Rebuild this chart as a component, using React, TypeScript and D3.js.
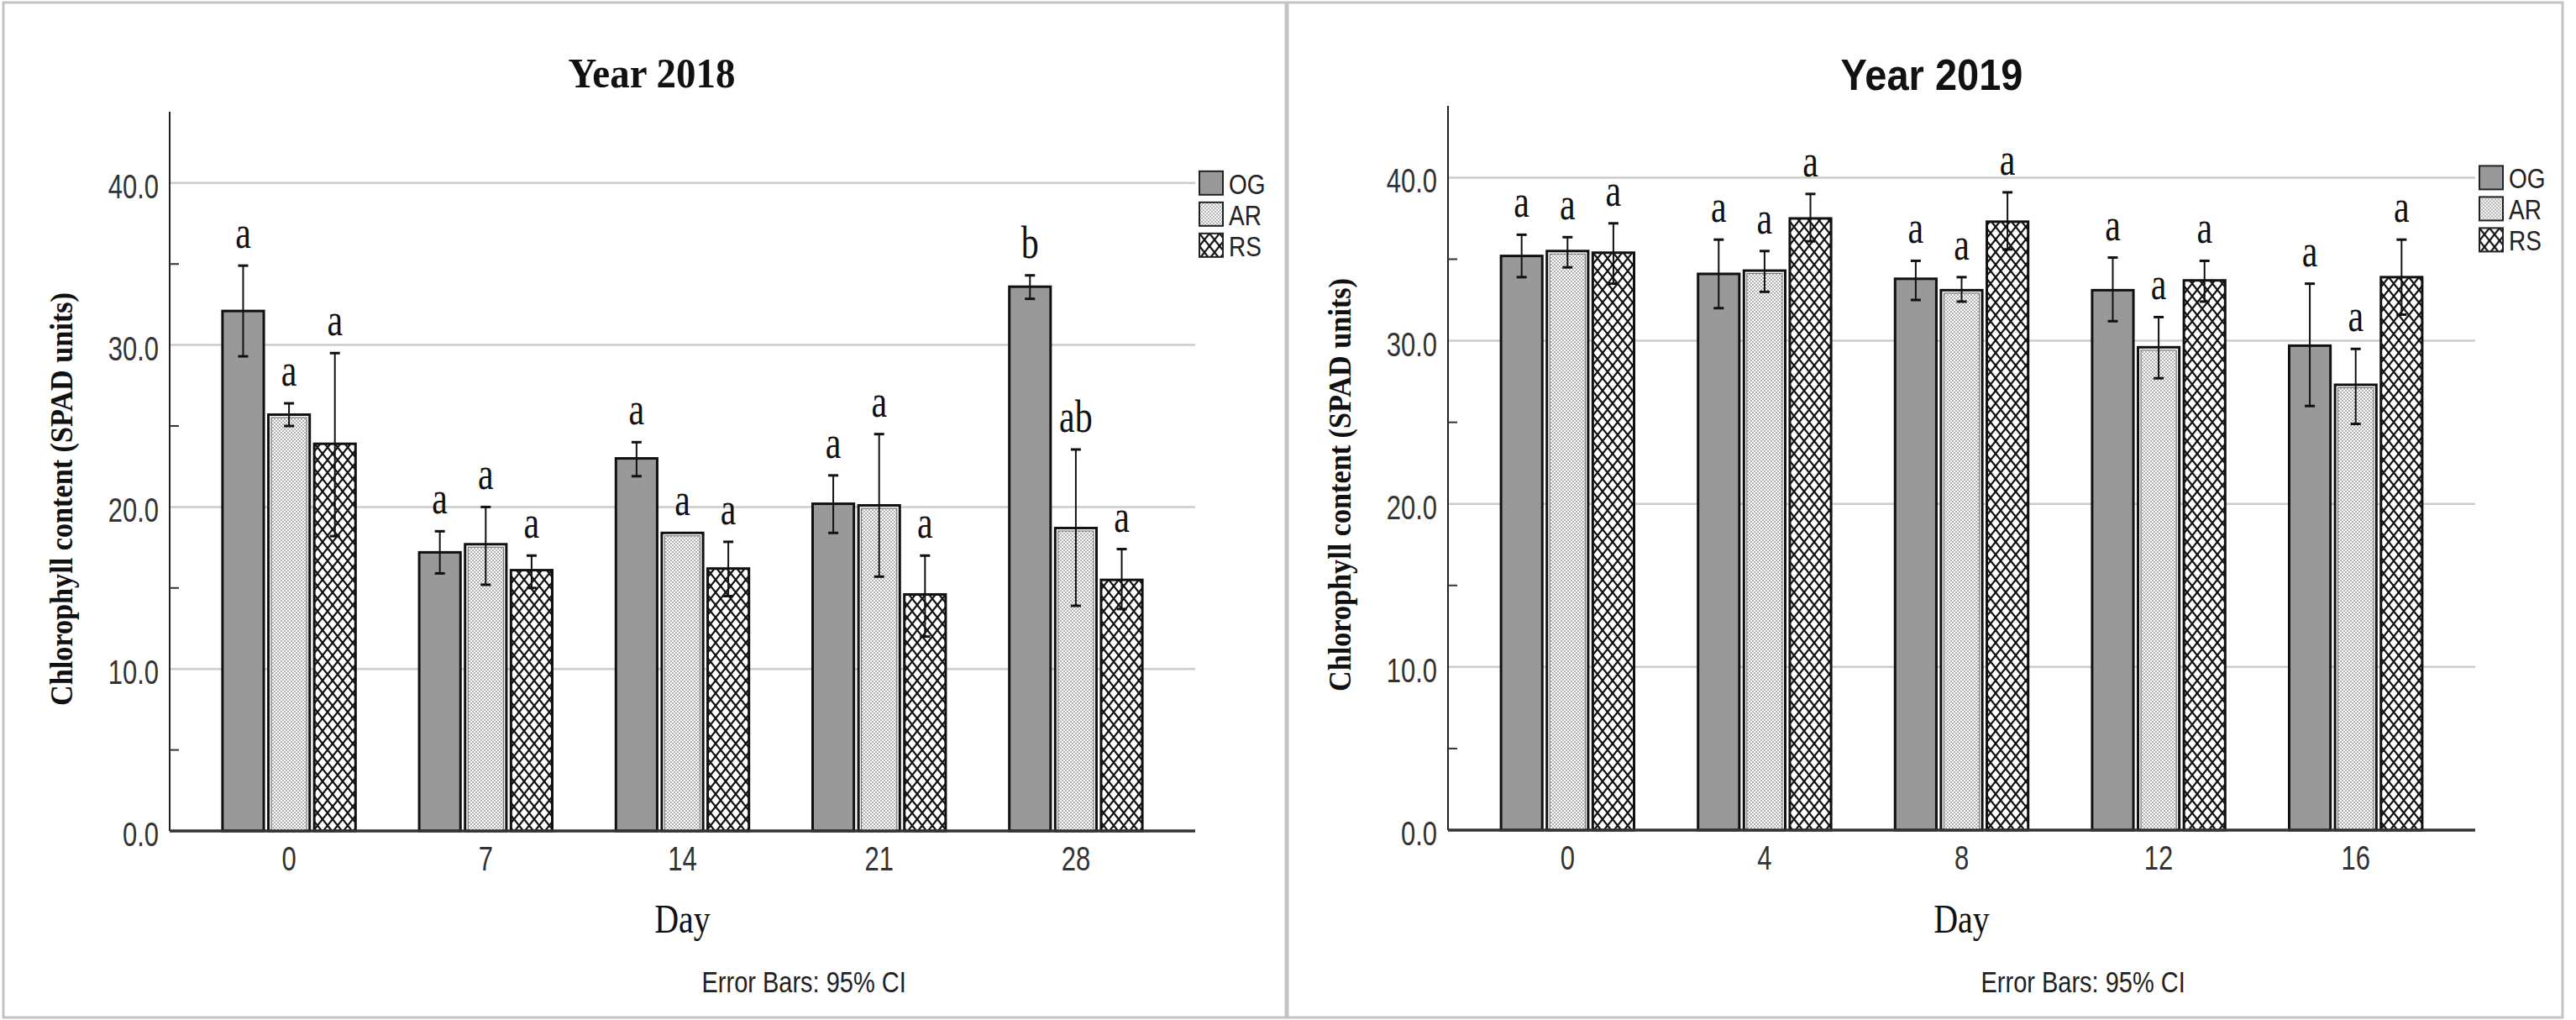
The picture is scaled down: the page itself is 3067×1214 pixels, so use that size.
import React from 'react';
import * as d3 from 'd3';

const W = 3067;
const H = 1214;

const treatments = ['OG', 'AR', 'RS'];

// 2018 season, SPAD means with 95% CI bounds
const days2018 = ['0', '7', '14', '21', '28'];
const og2018 = [32.1, 17.2, 23.0, 20.2, 33.6];
const og2018Lo = [29.3, 15.9, 21.9, 18.4, 32.85];
const og2018Hi = [34.9, 18.5, 24.0, 21.95, 34.3];
const ar2018 = [25.7, 17.7, 18.4, 20.1, 18.7];
const ar2018Lo = [25.0, 15.2, 18.4, 15.7, 13.9];
const ar2018Hi = [26.4, 20.0, 18.4, 24.5, 23.55];
const rs2018 = [23.9, 16.1, 16.2, 14.6, 15.5];
const rs2018Lo = [18.2, 15.0, 14.5, 12.0, 13.7];
const rs2018Hi = [29.5, 17.0, 17.85, 17.0, 17.4];
const og2018Letters = ['a', 'a', 'a', 'a', 'b'];
const ar2018Letters = ['a', 'a', 'a', 'a', 'ab'];
const rs2018Letters = ['a', 'a', 'a', 'a', 'a'];

// 2019 season
const days2019 = ['0', '4', '8', '12', '16'];
const og2019 = [35.2, 34.1, 33.8, 33.1, 29.7];
const og2019Lo = [33.9, 32.0, 32.5, 31.2, 26.0];
const og2019Hi = [36.5, 36.2, 34.9, 35.1, 33.5];
const ar2019 = [35.5, 34.3, 33.1, 29.6, 27.3];
const ar2019Lo = [34.5, 33.0, 32.4, 27.7, 24.9];
const ar2019Hi = [36.35, 35.5, 33.9, 31.45, 29.5];
const rs2019 = [35.4, 37.5, 37.3, 33.7, 33.9];
const rs2019Lo = [33.5, 36.1, 35.6, 32.4, 31.6];
const rs2019Hi = [37.2, 39.0, 39.1, 34.9, 36.2];
const og2019Letters = ['a', 'a', 'a', 'a', 'a'];
const ar2019Letters = ['a', 'a', 'a', 'a', 'a'];
const rs2019Letters = ['a', 'a', 'a', 'a', 'a'];

const yTicks = [0, 10, 20, 30, 40];
const yMinor = [5, 15, 25, 35];
const yMax = 44.4;

const SERIF = '"Liberation Serif", "Times New Roman", serif';
const SANS = '"Liberation Sans", Arial, sans-serif';

const fills: Record<string, string> = {
  OG: '#999999',
  AR: 'url(#dots)',
  RS: 'url(#diamonds)',
};

type Series = { mean: number[]; lo: number[]; hi: number[]; letters: string[] };

// text stretched vertically about its baseline
function Tall(props: {
  x: number;
  y: number;
  k: number;
  anchor?: 'start' | 'middle' | 'end';
  family: string;
  size: number;
  weight?: string;
  fill?: string;
  children: React.ReactNode;
}) {
  return (
    <text
      transform={`translate(${props.x},${props.y}) scale(1,${props.k})`}
      textAnchor={props.anchor || 'start'}
      fontFamily={props.family}
      fontSize={props.size}
      fontWeight={props.weight || 'normal'}
      fill={props.fill || '#111'}
    >
      {props.children}
    </text>
  );
}

type PanelProps = {
  frame: [number, number, number, number];
  plotLeft: number;
  plotRight: number;
  yZero: number;
  yTop: number;
  days: string[];
  series: Series[];
  title: string;
  titleFont: string;
  titleX: number;
  titleY: number;
  yLabelX: number;
  yLabelY: number;
};

function Panel(p: PanelProps) {
  const y = d3.scaleLinear().domain([0, yMax]).range([p.yZero, p.yTop]);
  const x = d3
    .scaleBand<string>()
    .domain(p.days)
    .range([p.plotLeft + 25, p.plotRight - 25]);
  const sub = d3
    .scaleBand<string>()
    .domain(treatments)
    .range([-79.2, 79.2])
    .paddingInner(0.1);
  const bw = sub.bandwidth();
  const mid = (p.plotLeft + p.plotRight) / 2;

  return (
    <g>
      <rect
        x={p.frame[0]}
        y={p.frame[1]}
        width={p.frame[2]}
        height={p.frame[3]}
        fill="#fff"
        stroke="#c4c4c4"
        strokeWidth={3}
      />

      {/* gridlines */}
      {yTicks.filter((t) => t > 0).map((t) => (
        <line
          key={'g' + t}
          x1={p.plotLeft}
          x2={p.plotRight}
          y1={y(t)}
          y2={y(t)}
          stroke="#cccccc"
          strokeWidth={2.5}
        />
      ))}

      {/* bars */}
      {p.days.map((d, i) =>
        treatments.map((g, j) => {
          const s = p.series[j];
          const bx = x(d)! + x.bandwidth() / 2 + sub(g)!;
          const top = y(s.mean[i]);
          const h = y(0) - top;
          return (
            <g key={d + g}>
              {g === 'AR' ? (
                <>
                  <rect x={bx} y={top} width={bw} height={h} fill="#fff" stroke="#111" strokeWidth={3} />
                  <rect
                    x={bx + 3.5}
                    y={top + 3.5}
                    width={bw - 7}
                    height={h - 3.5}
                    fill={fills[g]}
                    stroke="#666"
                    strokeWidth={1}
                  />
                </>
              ) : (
                <rect x={bx} y={top} width={bw} height={h} fill={fills[g]} stroke="#111" strokeWidth={3} />
              )}
            </g>
          );
        })
      )}

      {/* axes */}
      <line x1={p.plotLeft} x2={p.plotLeft} y1={p.yTop} y2={y(0)} stroke="#222" strokeWidth={2} />
      <line x1={p.plotLeft} x2={p.plotRight} y1={y(0)} y2={y(0)} stroke="#333" strokeWidth={3.5} />
      {yMinor.map((t) => (
        <line key={'m' + t} x1={p.plotLeft} x2={p.plotLeft + 11} y1={y(t)} y2={y(t)} stroke="#333" strokeWidth={2} />
      ))}
      {yTicks.map((t) => (
        <Tall key={'t' + t} x={p.plotLeft - 13} y={y(t) + 18} k={1.3} anchor="end" family={SANS} size={31} fill="#333">
          {d3.format('.1f')(t)}
        </Tall>
      ))}
      {p.days.map((d) => (
        <Tall
          key={'x' + d}
          x={x(d)! + x.bandwidth() / 2}
          y={y(0) + 47}
          k={1.3}
          anchor="middle"
          family={SANS}
          size={31}
          fill="#333"
        >
          {d}
        </Tall>
      ))}

      {/* error bars and letters */}
      {p.days.map((d, i) =>
        treatments.map((g, j) => {
          const s = p.series[j];
          const cx = x(d)! + x.bandwidth() / 2 + sub(g)! + bw / 2;
          const yHi = y(s.hi[i]);
          const yLo = y(s.lo[i]);
          const hasBar = s.hi[i] > s.lo[i];
          return (
            <g key={'e' + d + g}>
              {hasBar && (
                <>
                  <line x1={cx} x2={cx} y1={yHi} y2={yLo} stroke="#111" strokeWidth={2} />
                  <line x1={cx - 6} x2={cx + 6} y1={yHi} y2={yHi} stroke="#111" strokeWidth={3} />
                  <line x1={cx - 6} x2={cx + 6} y1={yLo} y2={yLo} stroke="#111" strokeWidth={3} />
                </>
              )}
              <Tall
                x={cx}
                y={(hasBar ? yHi : y(s.mean[i])) - 21}
                k={1.3}
                anchor="middle"
                family={SERIF}
                size={42}
              >
                {s.letters[i]}
              </Tall>
            </g>
          );
        })
      )}

      {/* legend */}
      {treatments.map((g, j) => (
        <g key={'l' + g} transform={`translate(${p.plotRight + 5},${y(40) - 14 + j * 37})`}>
          <rect width={28} height={28} fill={fills[g]} stroke="#222" strokeWidth={2} />
          <Tall x={35} y={27} k={1.2} family={SANS} size={28} fill="#222">
            {g}
          </Tall>
        </g>
      ))}

      {/* titles */}
      <Tall x={p.titleX} y={p.titleY} k={1.1} anchor="middle" family={p.titleFont} weight="bold" size={47}>
        {p.title}
      </Tall>
      <text
        transform={`translate(${p.yLabelX},${p.yLabelY}) rotate(-90)`}
        textAnchor="middle"
        fontFamily={SERIF}
        fontWeight="bold"
        fontSize={38}
        textLength={492}
        lengthAdjust="spacingAndGlyphs"
        fill="#111"
      >
        Chlorophyll content (SPAD units)
      </text>
      <Tall x={mid} y={1110} k={1.2} anchor="middle" family={SERIF} size={40}>
        Day
      </Tall>
      <Tall x={mid + 23} y={1181} k={1.2} family={SANS} size={29} fill="#222">
        Error Bars: 95% CI
      </Tall>
    </g>
  );
}

export default function App() {
  const s2018: Series[] = [
    { mean: og2018, lo: og2018Lo, hi: og2018Hi, letters: og2018Letters },
    { mean: ar2018, lo: ar2018Lo, hi: ar2018Hi, letters: ar2018Letters },
    { mean: rs2018, lo: rs2018Lo, hi: rs2018Hi, letters: rs2018Letters },
  ];
  const s2019: Series[] = [
    { mean: og2019, lo: og2019Lo, hi: og2019Hi, letters: og2019Letters },
    { mean: ar2019, lo: ar2019Lo, hi: ar2019Hi, letters: ar2019Letters },
    { mean: rs2019, lo: rs2019Lo, hi: rs2019Hi, letters: rs2019Letters },
  ];

  return (
    <div style={{ position: 'absolute', left: 0, top: 0 }}>
      <svg width={W} height={H} style={{ display: 'block', background: '#fff' }}>
        <defs>
          <pattern id="dots" width={4} height={4} patternUnits="userSpaceOnUse">
            <rect width={4} height={4} fill="#fff" />
            <rect width={2} height={2} fill="#b0b0b0" />
            <rect x={2} y={2} width={2} height={2} fill="#b0b0b0" />
          </pattern>
          <pattern id="diamonds" width={12} height={15} patternUnits="userSpaceOnUse">
            <rect width={12} height={15} fill="#fff" />
            <path
              d="M-12,-15L24,30M0,-15L24,15M-12,0L12,30M24,-15L-12,30M12,-15L-12,15M24,0L0,30"
              stroke="#111"
              strokeWidth={2.2}
            />
          </pattern>
        </defs>
        <Panel
          frame={[4, 3, 1527, 1208]}
          plotLeft={202}
          plotRight={1423}
          yZero={989}
          yTop={133}
          days={days2018}
          series={s2018}
          title="Year 2018"
          titleFont={SERIF}
          titleX={776}
          titleY={104}
          yLabelX={86}
          yLabelY={594}
        />
        <Panel
          frame={[1533, 3, 1518, 1208]}
          plotLeft={1724}
          plotRight={2947}
          yZero={988}
          yTop={126}
          days={days2019}
          series={s2019}
          title="Year 2019"
          titleFont={SANS}
          titleX={2300}
          titleY={107}
          yLabelX={1608}
          yLabelY={577}
        />
      </svg>
    </div>
  );
}
